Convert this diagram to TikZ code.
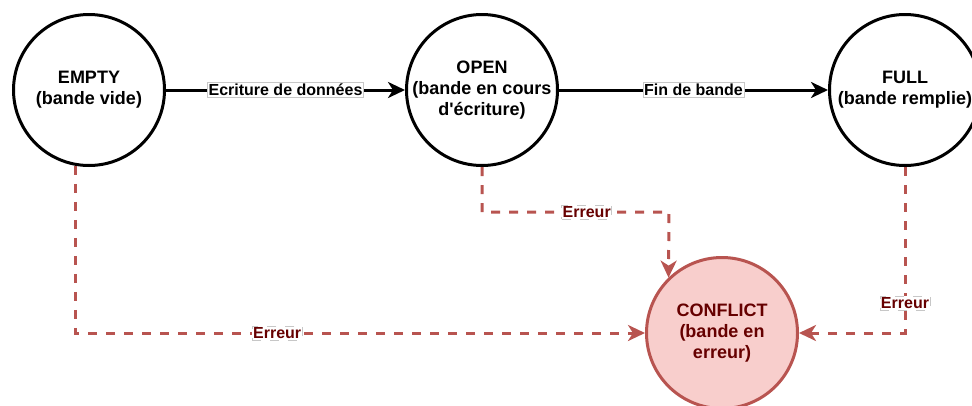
\documentclass[tikz,border=0pt]{standalone}
\usepackage{fontspec}
\setmainfont{Liberation Sans}[Ligatures=TeXOff]
\usetikzlibrary{arrows.meta}
\definecolor{errline}{HTML}{B85450}
\definecolor{errfill}{HTML}{F8CECC}
\definecolor{errtext}{HTML}{660000}
\begin{document}
\begin{tikzpicture}[x=1pt,y=-1pt,
  state/.style={circle, draw=black, line width=3pt, fill=white, minimum size=151pt,
    inner sep=0pt, align=center, font=\fontsize{18}{21}\selectfont\bfseries},
  errstate/.style={state, draw=errline, fill=errfill, text=errtext},
  go/.style={draw=black, line width=3pt, -{Stealth[length=17pt,width=16pt,inset=5pt]}},
  fail/.style={draw=errline, line width=3pt, dash pattern=on 9pt off 9pt,
    -{Stealth[length=17pt,width=16pt,inset=5pt]}},
  lbl/.style={fill=white, draw=black!22, line width=0.6pt, inner xsep=1pt, inner ysep=1.5pt,
    font=\fontsize{16}{18}\selectfont\bfseries},
  errlbl/.style={lbl, text=errtext}]
  \useasboundingbox (0,0) rectangle (972,405);

  % states of a tape
  \node[state] (empty) at (89,90) {EMPTY\\(bande vide)};
  \node[state] (open) at (482,90) {OPEN\\(bande en cours\\d'écriture)};
  \node[state] (full) at (905,90) {FULL\\(bande remplie)};
  \node[errstate] (conflict) at (722,333) {CONFLICT\\(bande en\\erreur)};

  % normal transitions
  \draw[go] (empty) -- node[lbl] {Ecriture de données} (open);
  \draw[go] (open) -- node[lbl] {Fin de bande} (full);

  % error transitions
  \coordinate (bend) at (669,212);
  \draw[fail] (open.south) |- node[errlbl, pos=0.78] {Erreur} (bend) -- (conflict.134.6);
  \draw[fail] (empty.260) |- node[errlbl, pos=0.677] {Erreur} (conflict.west);
  \draw[fail] (full.south) |- node[errlbl, pos=0.41] {Erreur} (conflict.east);
\end{tikzpicture}
\end{document}
